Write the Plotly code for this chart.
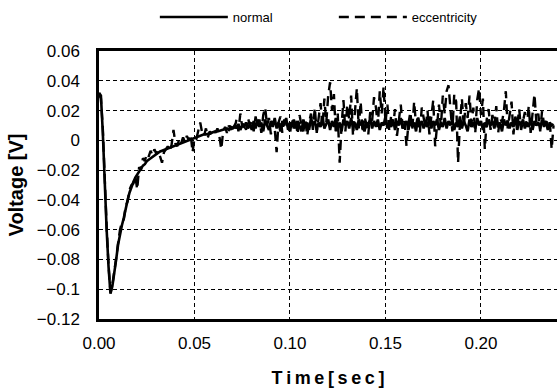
import numpy as np
import plotly.graph_objects as go

# sampling grid (s)
time = np.round(np.arange(0, 0.239, 0.001), 3)

normal = [
    0.032, 0.030, 0.005, -0.030, -0.060, -0.085, -0.103, -0.098, -0.090, -0.080,
    -0.070, -0.062, -0.057, -0.052, -0.045, -0.040, -0.035, -0.031, -0.028, -0.025,
    -0.023, -0.021, -0.019, -0.017, -0.016, -0.014, -0.013, -0.012, -0.011, -0.010,
    -0.009,
    -0.008, -0.0075, -0.007, -0.0065, -0.006, -0.0055, -0.005, -0.0045, -0.004, -0.0035,
    -0.003, -0.0025, -0.002, -0.0015, -0.001, -0.0005, 0.0, 0.0005, 0.001, 0.0015,
    0.002, 0.0025, 0.003, 0.0035, 0.004, 0.004, 0.0045, 0.005, 0.005, 0.0055,
    0.006, 0.006, 0.0065, 0.007, 0.007, 0.0075, 0.008, 0.007, 0.009, 0.008,
    0.010, 0.008, 0.011, 0.007, 0.010, 0.009, 0.012, 0.008, 0.011, 0.007,
    0.013, 0.008, 0.014, 0.009, 0.012, 0.006, 0.014, 0.010, 0.007, 0.013,
    0.009, 0.015, 0.008, 0.012, 0.006, 0.013, 0.010, 0.015, 0.007, 0.012,
    0.009, 0.014, 0.008, 0.013, 0.010, 0.006, 0.014, 0.009, 0.012, 0.007,
    0.015, 0.010, 0.013, 0.007, 0.012, 0.009, 0.016, 0.008, 0.011, 0.014,
    0.007, 0.013, 0.009, 0.015, 0.008, 0.012, 0.006, 0.014, 0.010, 0.013,
    0.008, 0.015, 0.009, 0.012, 0.007, 0.014, 0.010, 0.013, 0.006, 0.012,
    0.010, 0.015, 0.008, 0.013, 0.009, 0.014, 0.007, 0.012, 0.010, 0.016,
    0.008, 0.012, 0.009, 0.014, 0.007, 0.013, 0.010, 0.015, 0.008, 0.011,
    0.013, 0.007, 0.014, 0.009, 0.012, 0.006, 0.015, 0.010, 0.013, 0.008,
    0.012, 0.009, 0.016, 0.008, 0.013, 0.010, 0.014, 0.007, 0.012, 0.009,
    0.015, 0.008, 0.013, 0.010, 0.014, 0.007, 0.012, 0.009, 0.016, 0.008,
    0.013, 0.010, 0.006, 0.014, 0.009, 0.012, 0.008, 0.015, 0.010, 0.013,
    0.007, 0.012, 0.009, 0.014, 0.010, 0.013, 0.008, 0.015, 0.009, 0.012,
    0.006, 0.014, 0.010, 0.013, 0.008, 0.012, 0.009, 0.015, 0.007, 0.013,
    0.010, 0.014, 0.008, 0.012, 0.009, 0.015, 0.007, 0.013, 0.010, 0.012,
    0.008, 0.014, 0.009, 0.013, 0.007, 0.012, 0.010, 0.011,
]

eccentricity = [
    0.031, 0.028, 0.008, -0.028, -0.058, -0.084, -0.102, -0.097, -0.089, -0.079, -0.069,
    -0.060, -0.055, -0.053, -0.044, -0.041, -0.033, -0.030, -0.029, -0.024, -0.033,
    -0.018, -0.020, -0.012, -0.014, -0.009, -0.011, -0.007, -0.010, -0.006, -0.009,
    -0.007, -0.011, -0.015, -0.008, -0.006, -0.004, -0.007, -0.003, 0.007, -0.002,
    -0.004, 0.001, -0.002, 0.002, -0.001, 0.003, 0.000, 0.004, -0.008, 0.002,
    0.001, 0.006, 0.012, 0.005, 0.003, 0.008, 0.002, 0.006, 0.004, 0.007,
    0.005, 0.008, 0.003, -0.006, 0.006, 0.009, 0.005, 0.010, 0.007, 0.011,
    0.008, 0.014, 0.006, 0.018, 0.009, 0.012, 0.007, 0.015, 0.010, 0.013,
    0.006, 0.016, 0.009, 0.014, 0.005, 0.017, 0.022, 0.010, 0.015, 0.004,
    0.013, 0.008, -0.008, 0.012, 0.016, 0.005, 0.014, 0.009, 0.011, 0.004,
    0.015, 0.008, 0.013, 0.004, 0.017, 0.010, 0.006, 0.014, 0.003, 0.012,
    0.018, 0.007, 0.022, 0.005, 0.016, 0.025, 0.009, 0.028, 0.012, 0.030,
    0.039, 0.020, 0.031, 0.004, 0.018, -0.015, 0.010, 0.027, 0.006, 0.024,
    0.014, 0.030, 0.003, 0.021, 0.035, 0.008, 0.026, 0.005, 0.016, 0.011,
    0.004, 0.019, 0.013, 0.029, 0.022, 0.009, 0.033, 0.018, 0.036, 0.012,
    0.024, 0.006, 0.017, 0.010, 0.021, 0.003, 0.015, 0.024, 0.008, 0.013,
    -0.004, 0.011, 0.019, 0.007, 0.026, 0.010, 0.017, 0.005, 0.022, 0.014,
    0.008, 0.020, 0.004, 0.016, 0.027, -0.004, 0.011, 0.024, 0.009, 0.030,
    0.018, 0.033, 0.037, 0.021, 0.006, 0.031, 0.026, -0.015, 0.012, 0.028,
    0.009, 0.025, 0.015, 0.030, 0.011, 0.022, 0.005, 0.027, 0.035, 0.017,
    0.028, -0.006, 0.014, 0.021, 0.007, 0.017, 0.010, 0.023, 0.005, 0.015,
    0.012, 0.020, 0.033, 0.008, 0.018, 0.026, 0.004, 0.016, 0.010, 0.021,
    0.007, 0.014, 0.019, 0.009, 0.023, 0.005, 0.016, 0.031, 0.012, 0.018,
    0.006, 0.020, 0.011, 0.015, 0.008, 0.013, -0.006, 0.010,
]

x_tickvals = [0.00, 0.05, 0.10, 0.15, 0.20]
x_ticktext = ["0.00", "0.05", "0.10", "0.15", "0.20"]
y_tickvals = [0.06, 0.04, 0.02, 0.0, -0.02, -0.04, -0.06, -0.08, -0.1, -0.12]
y_ticktext = ["0.06", "0.04", "0.02", "0", "−0.02", "−0.04", "−0.06", "−0.08", "−0.1", "−0.12"]

FONT = "Liberation Sans, Arial, sans-serif"

fig = go.Figure()
fig.add_trace(go.Scatter(x=time, y=normal, mode="lines", name="normal",
                         line=dict(color="black", width=2.6)))
fig.add_trace(go.Scatter(x=time, y=eccentricity, mode="lines", name="eccentricity",
                         line=dict(color="black", width=2.4, dash="10px,6px")))

grid_common = dict(showgrid=True, gridcolor="black", gridwidth=1, griddash="4px,3px",
                   zeroline=False, ticks="", color="black", automargin=False,
                   showline=True, linecolor="black", linewidth=2.5)

fig.update_xaxes(range=[0, 0.2398], tickvals=x_tickvals, ticktext=x_ticktext,
                 tickfont=dict(family=FONT, size=17), ticklabelstandoff=7, mirror=True,
                 title=dict(text="T\u2009i\u2009m\u2009e\u2009[\u2009s\u2009e\u2009c\u2009]",
                            font=dict(family=FONT, size=18, weight="bold"), standoff=20),
                 **grid_common)
fig.update_yaxes(range=[-0.12, 0.06], tickvals=y_tickvals, ticktext=y_ticktext,
                 tickfont=dict(family=FONT, size=17), ticklabelstandoff=13, mirror=False,
                 title=dict(text="Voltage [V]", font=dict(family=FONT, size=20, weight="bold"),
                            standoff=8),
                 **grid_common)

fig.update_layout(
    width=557, height=388,
    margin=dict(l=99, r=0, t=51, b=69),
    paper_bgcolor="white", plot_bgcolor="white",
    showlegend=True,
    legend=dict(orientation="h", xref="container", yref="container",
                x=0.278, y=0.956, xanchor="left", yanchor="middle",
                font=dict(family=FONT, size=13, color="black"),
                itemwidth=68, entrywidth=96, entrywidthmode="pixels",
                bgcolor="rgba(0,0,0,0)"),
)

fig.write_html("out.html", config={"displayModeBar": False},
               post_script="document.body.style.margin='0';document.body.style.overflow='hidden';")
